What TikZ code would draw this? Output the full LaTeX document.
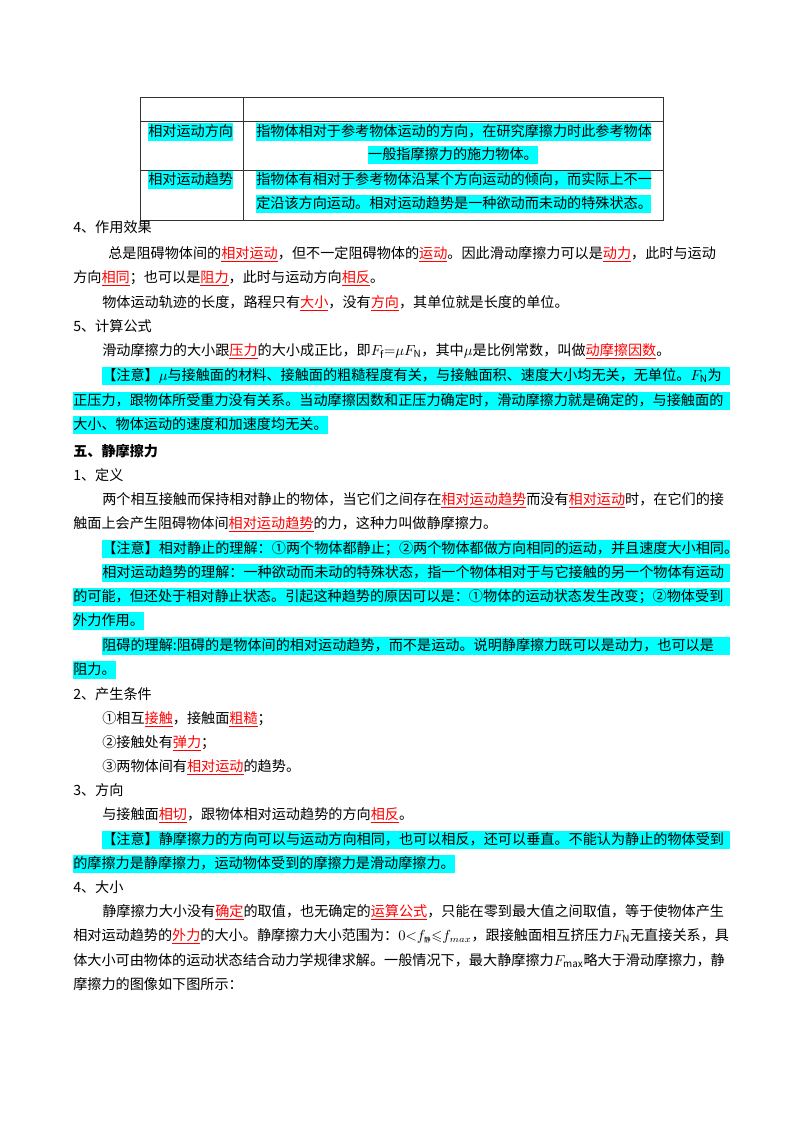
\documentclass[tikz,border=0pt]{standalone}
\usepackage{fontspec}
\usepackage{amssymb}
\setmainfont{Noto Sans CJK SC}
\XeTeXlinebreaklocale "zh"
\XeTeXlinebreakskip=0pt plus 2pt
\definecolor{hlc}{RGB}{0,255,255}
\newcommand{\rd}[1]{\textcolor{red}{$\underline{\hbox{#1}}$}}
\newcommand{\J}[2]{\hbox to #1pt{#2}}
\tikzset{
  ln/.style={anchor=west,inner sep=0pt,font=\fontsize{10.6}{12}\selectfont,text height=8.6pt,text depth=2.2pt},
  hl/.style={ln,fill=hlc,inner ysep=1.3pt},
}
\begin{document}
\begin{tikzpicture}[x=0.75pt,y=-0.75pt]
\useasboundingbox (0,0) rectangle (800,1132);
% table
\node[hl] (c1) at (148,132) {相对运动方向};
\node[hl] (c2) at (148,180) {相对运动趋势};
\node[hl] (r1a) at (256,132) {\J{296}{指物体相对于参考物体运动的方向，在研究摩擦力时此参考物体}};
\node[hl,anchor=center] (r1b) at (453,155) {一般指摩擦力的施力物体。};
\node[hl] (r2a) at (256,180) {\J{296}{指物体有相对于参考物体沿某个方向运动的倾向，而实际上不一}};
\node[hl] (r2b) at (256,204) {\J{296}{定沿该方向运动。相对运动趋势是一种欲动而未动的特殊状态。}};
\draw[line width=0.5pt,black!80] (140,97) rectangle (663,220);
\draw[line width=0.5pt,black!80] (140,121) -- (663,121) (140,170) -- (663,170) (243,97) -- (243,220);
% section 4
\node[ln] (a1) at (73,228) {4、作用效果};
\node[ln] (a2) at (108,254) {\J{466.5}{总是阻碍物体间的\rd{相对运动}，但不一定阻碍物体的\rd{运动}。因此滑动摩擦力可以是\rd{动力}，此时与运动}};
\node[ln] (a3) at (73,278) {方向\rd{相同}；也可以是\rd{阻力}，此时与运动方向\rd{相反}。};
\node[ln] (a4) at (102,303) {物体运动轨迹的长度，路程只有\rd{大小}，没有\rd{方向}，其单位就是长度的单位。};
\node[ln] (b1) at (73,327) {5、计算公式};
\node[ln] (b2) at (102,351) {滑动摩擦力的大小跟\rd{压力}的大小成正比，即$F_{\mathrm f}{=}\mu F_{\mathrm N}$，其中$\mu$是比例常数，叫做\rd{动摩擦因数}。};
\node[hl] (b3) at (102,376) {\J{471}{【注意】$\mu$与接触面的材料、接触面的粗糙程度有关，与接触面积、速度大小均无关，无单位。$F_{\mathrm N}$为}};
\node[hl] (b4) at (73,401) {\J{492.75}{正压力，跟物体所受重力没有关系。当动摩擦因数和正压力确定时，滑动摩擦力就是确定的，与接触面的}};
\node[hl] (b5) at (73,425) {大小、物体运动的速度和加速度均无关。};
% section five
\node[ln,font=\fontsize{10.6}{12}\selectfont\bfseries] (h5) at (73,452) {五、静摩擦力};
\node[ln] (d1) at (73,476) {1、定义};
\node[ln] (d2) at (102,500) {\J{471}{两个相互接触而保持相对静止的物体，当它们之间存在\rd{相对运动趋势}而没有\rd{相对运动}时，在它们的接}};
\node[ln] (d3) at (73,524) {触面上会产生阻碍物体间\rd{相对运动趋势}的力，这种力叫做静摩擦力。};
\node[hl] (d4) at (102,549) {\J{471}{【注意】相对静止的理解：①两个物体都静止；②两个物体都做方向相同的运动，并且速度大小相同。}};
\node[hl] (d5) at (102,573) {\J{471}{相对运动趋势的理解：一种欲动而未动的特殊状态，指一个物体相对于与它接触的另一个物体有运动}};
\node[hl] (d6) at (73,597) {\J{492.75}{的可能，但还处于相对静止状态。引起这种趋势的原因可以是：①物体的运动状态发生改变；②物体受到}};
\node[hl] (d7) at (73,621) {外力作用。};
\node[hl] (d8) at (102,646) {\J{471}{阻碍的理解:阻碍的是物体间的相对运动趋势，而不是运动。说明静摩擦力既可以是动力，也可以是}};
\node[hl] (d9) at (73,670) {阻力。};
\node[ln] (e1) at (73,695) {2、产生条件};
\node[ln] (e2) at (102,719) {①相互\rd{接触}，接触面\rd{粗糙}；};
\node[ln] (e3) at (102,743) {②接触处有\rd{弹力}；};
\node[ln] (e4) at (102,767) {③两物体间有\rd{相对运动}的趋势。};
\node[ln] (f1) at (73,791) {3、方向};
\node[ln] (f2) at (102,815) {与接触面\rd{相切}，跟物体相对运动趋势的方向\rd{相反}。};
\node[hl] (f3) at (102,840) {\J{471}{【注意】静摩擦力的方向可以与运动方向相同，也可以相反，还可以垂直。不能认为静止的物体受到}};
\node[hl] (f4) at (73,864) {的摩擦力是静摩擦力，运动物体受到的摩擦力是滑动摩擦力。};
\node[ln] (g1) at (73,888) {4、大小};
\node[ln] (g2) at (102,912) {\J{464}{静摩擦力大小没有\rd{确定}的取值，也无确定的\rd{运算公式}，只能在零到最大值之间取值，等于使物体产生}};
\node[ln] (g3) at (73,936) {\J{492.75}{相对运动趋势的\rd{外力}的大小。静摩擦力大小范围为：$0{<}f_{\mbox{\tiny 静}}{\leqslant}f_{max}$，跟接触面相互挤压力$F_{\mathrm N}$无直接关系，具}};
\node[ln] (g4) at (73,961) {\J{492.75}{体大小可由物体的运动状态结合动力学规律求解。一般情况下，最大静摩擦力$F_{\max}$略大于滑动摩擦力，静}};
\node[ln] (g5) at (73,985) {摩擦力的图像如下图所示：};
\end{tikzpicture}
\end{document}
